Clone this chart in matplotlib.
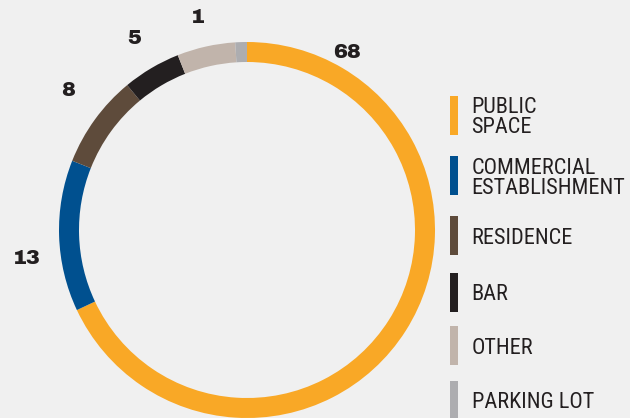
import numpy as np
import matplotlib.pyplot as plt
from matplotlib.patches import Rectangle

# data
categories = ["PUBLIC\nSPACE", "COMMERCIAL\nESTABLISHMENT", "RESIDENCE", "BAR", "OTHER", "PARKING LOT"]
values = [68, 13, 8, 5, 5, 1]
value_labels = ["68", "13", "8", "5", "1", None]
colors = ["#F9A826", "#00508F", "#5E4B3B", "#231F20", "#C1B4AB", "#ADADB0"]

bg = "#F0F0F0"
W, H = 630, 418

fig = plt.figure(figsize=(W / 100, H / 100), dpi=100, facecolor=bg)
ax = fig.add_axes([0, 0, 1, 1])
ax.set_facecolor(bg)

# ring, pixel coords (y flipped)
cx, cy, R = 247, H - 230, 188
wedges, _ = ax.pie(values, colors=colors, startangle=90, counterclock=False,
                   center=(cx, cy), radius=R,
                   wedgeprops=dict(width=20, linewidth=0))

# value labels: wedge midpoints, with small nudges as in the original
nudge = [93.1, 5.5, -2, 0, 0.4, 0]
label_r = [204, 222, 227, 222, 218, 222]
for w, lab, dn, r in zip(wedges, value_labels, nudge, label_r):
    if lab is None:
        continue
    ang = np.deg2rad((w.theta1 + w.theta2) / 2 + dn)
    ax.text(cx + r * np.cos(ang), cy + r * np.sin(ang), lab,
            ha="center", va="center", fontsize=15,
            family=["Archivo Black", "DejaVu Sans"], color="#231F20")

# legend drawn by hand
item_centers = [115, 175.5, 235.5, 292.5, 345.5, 400]
for name, col, yc in zip(categories, colors, item_centers):
    ax.add_patch(Rectangle((450, H - yc - 19.5), 8, 39, color=col, lw=0))
    lines = name.split("\n")
    base = yc + 8 - 10 * (len(lines) - 1)
    for i, line in enumerate(lines):
        ax.text(471.5, H - (base + 20 * i), line, ha="left", va="baseline",
                fontsize=16, color="#231F20",
                family=["Roboto Condensed", "Liberation Sans Narrow", "DejaVu Sans"])

ax.set_xlim(0, W)
ax.set_ylim(0, H)
ax.axis("off")

plt.savefig("out.png", dpi=100, facecolor=bg)
